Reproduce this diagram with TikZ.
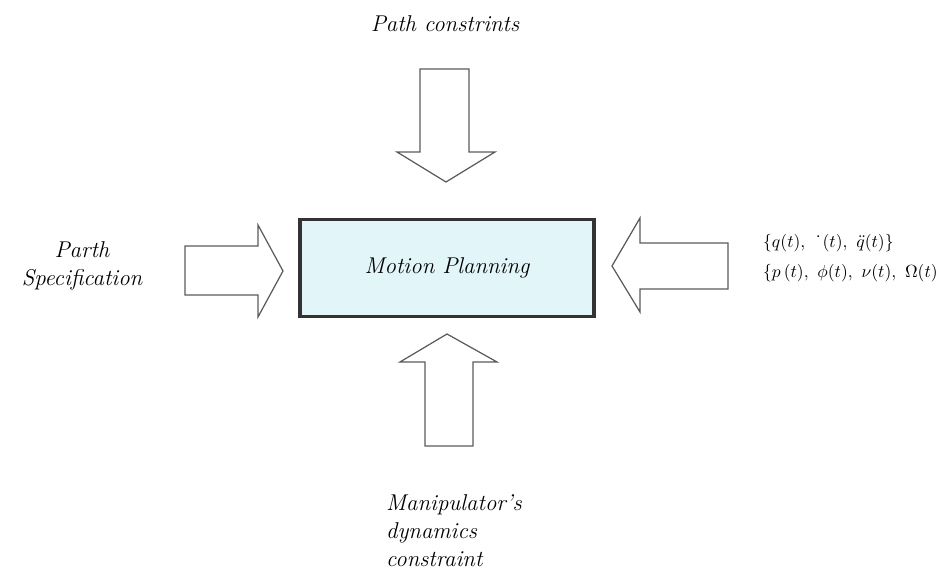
\documentclass[tikz,border=0pt]{standalone}
\usepackage{tikz}
\usetikzlibrary{calc}

\definecolor{boxfill}{RGB}{226,246,249}
\definecolor{linegray}{RGB}{90,90,90}

\tikzset{
	lbl/.style={font=\fontsize{13}{16}\selectfont\itshape, align=center},
	blockarrow/.style={draw=linegray, line width=0.7pt, line join=miter}
}

\begin{document}
\begin{tikzpicture}[x=0.02cm, y=-0.02cm]
	\useasboundingbox (0,0) rectangle (938,570);

	% central block
	\node[draw=black!80, line width=2pt, fill=boxfill, minimum width=294*0.02cm,
	minimum height=97*0.02cm, font=\fontsize{13}{16}\selectfont\itshape] (plan) at (447,268) {Motion Planning};

	% arrows into the block
	\draw[blockarrow] (420,69) -- (469,69) -- (469,152) -- (495,152) -- (446,182) -- (397,152) -- (420,152) -- cycle;
	\draw[blockarrow] (185,246) -- (258,246) -- (258,225) -- (283,271) -- (258,317) -- (258,295) -- (185,295) -- cycle;
	\draw[blockarrow] (728,243) -- (640,243) -- (640,218) -- (612,266) -- (640,312) -- (640,289) -- (728,289) -- cycle;
	\draw[blockarrow] (425,446) -- (473,446) -- (473,362) -- (497,362) -- (447,334) -- (400,362) -- (425,362) -- cycle;

	% labels
	\node[lbl] (top) at (445,24) {Path constrints};
	\node[lbl] (left) at (82,266) {Parth\\Specification};
	\node[lbl, align=left, anchor=north west] (bottom) at (380,488) {Manipulator's\\dynamics\\constraint};
	\node[anchor=west, font=\normalsize, align=left] (right) at (757,258)
	{$\{q(t),\ \dot{\phantom{q}}(t),\ \ddot{q}(t)\}$\\[5pt] $\{p\,(t),\ \phi(t),\ \nu(t),\ \Omega(t)$};
\end{tikzpicture}
\end{document}
